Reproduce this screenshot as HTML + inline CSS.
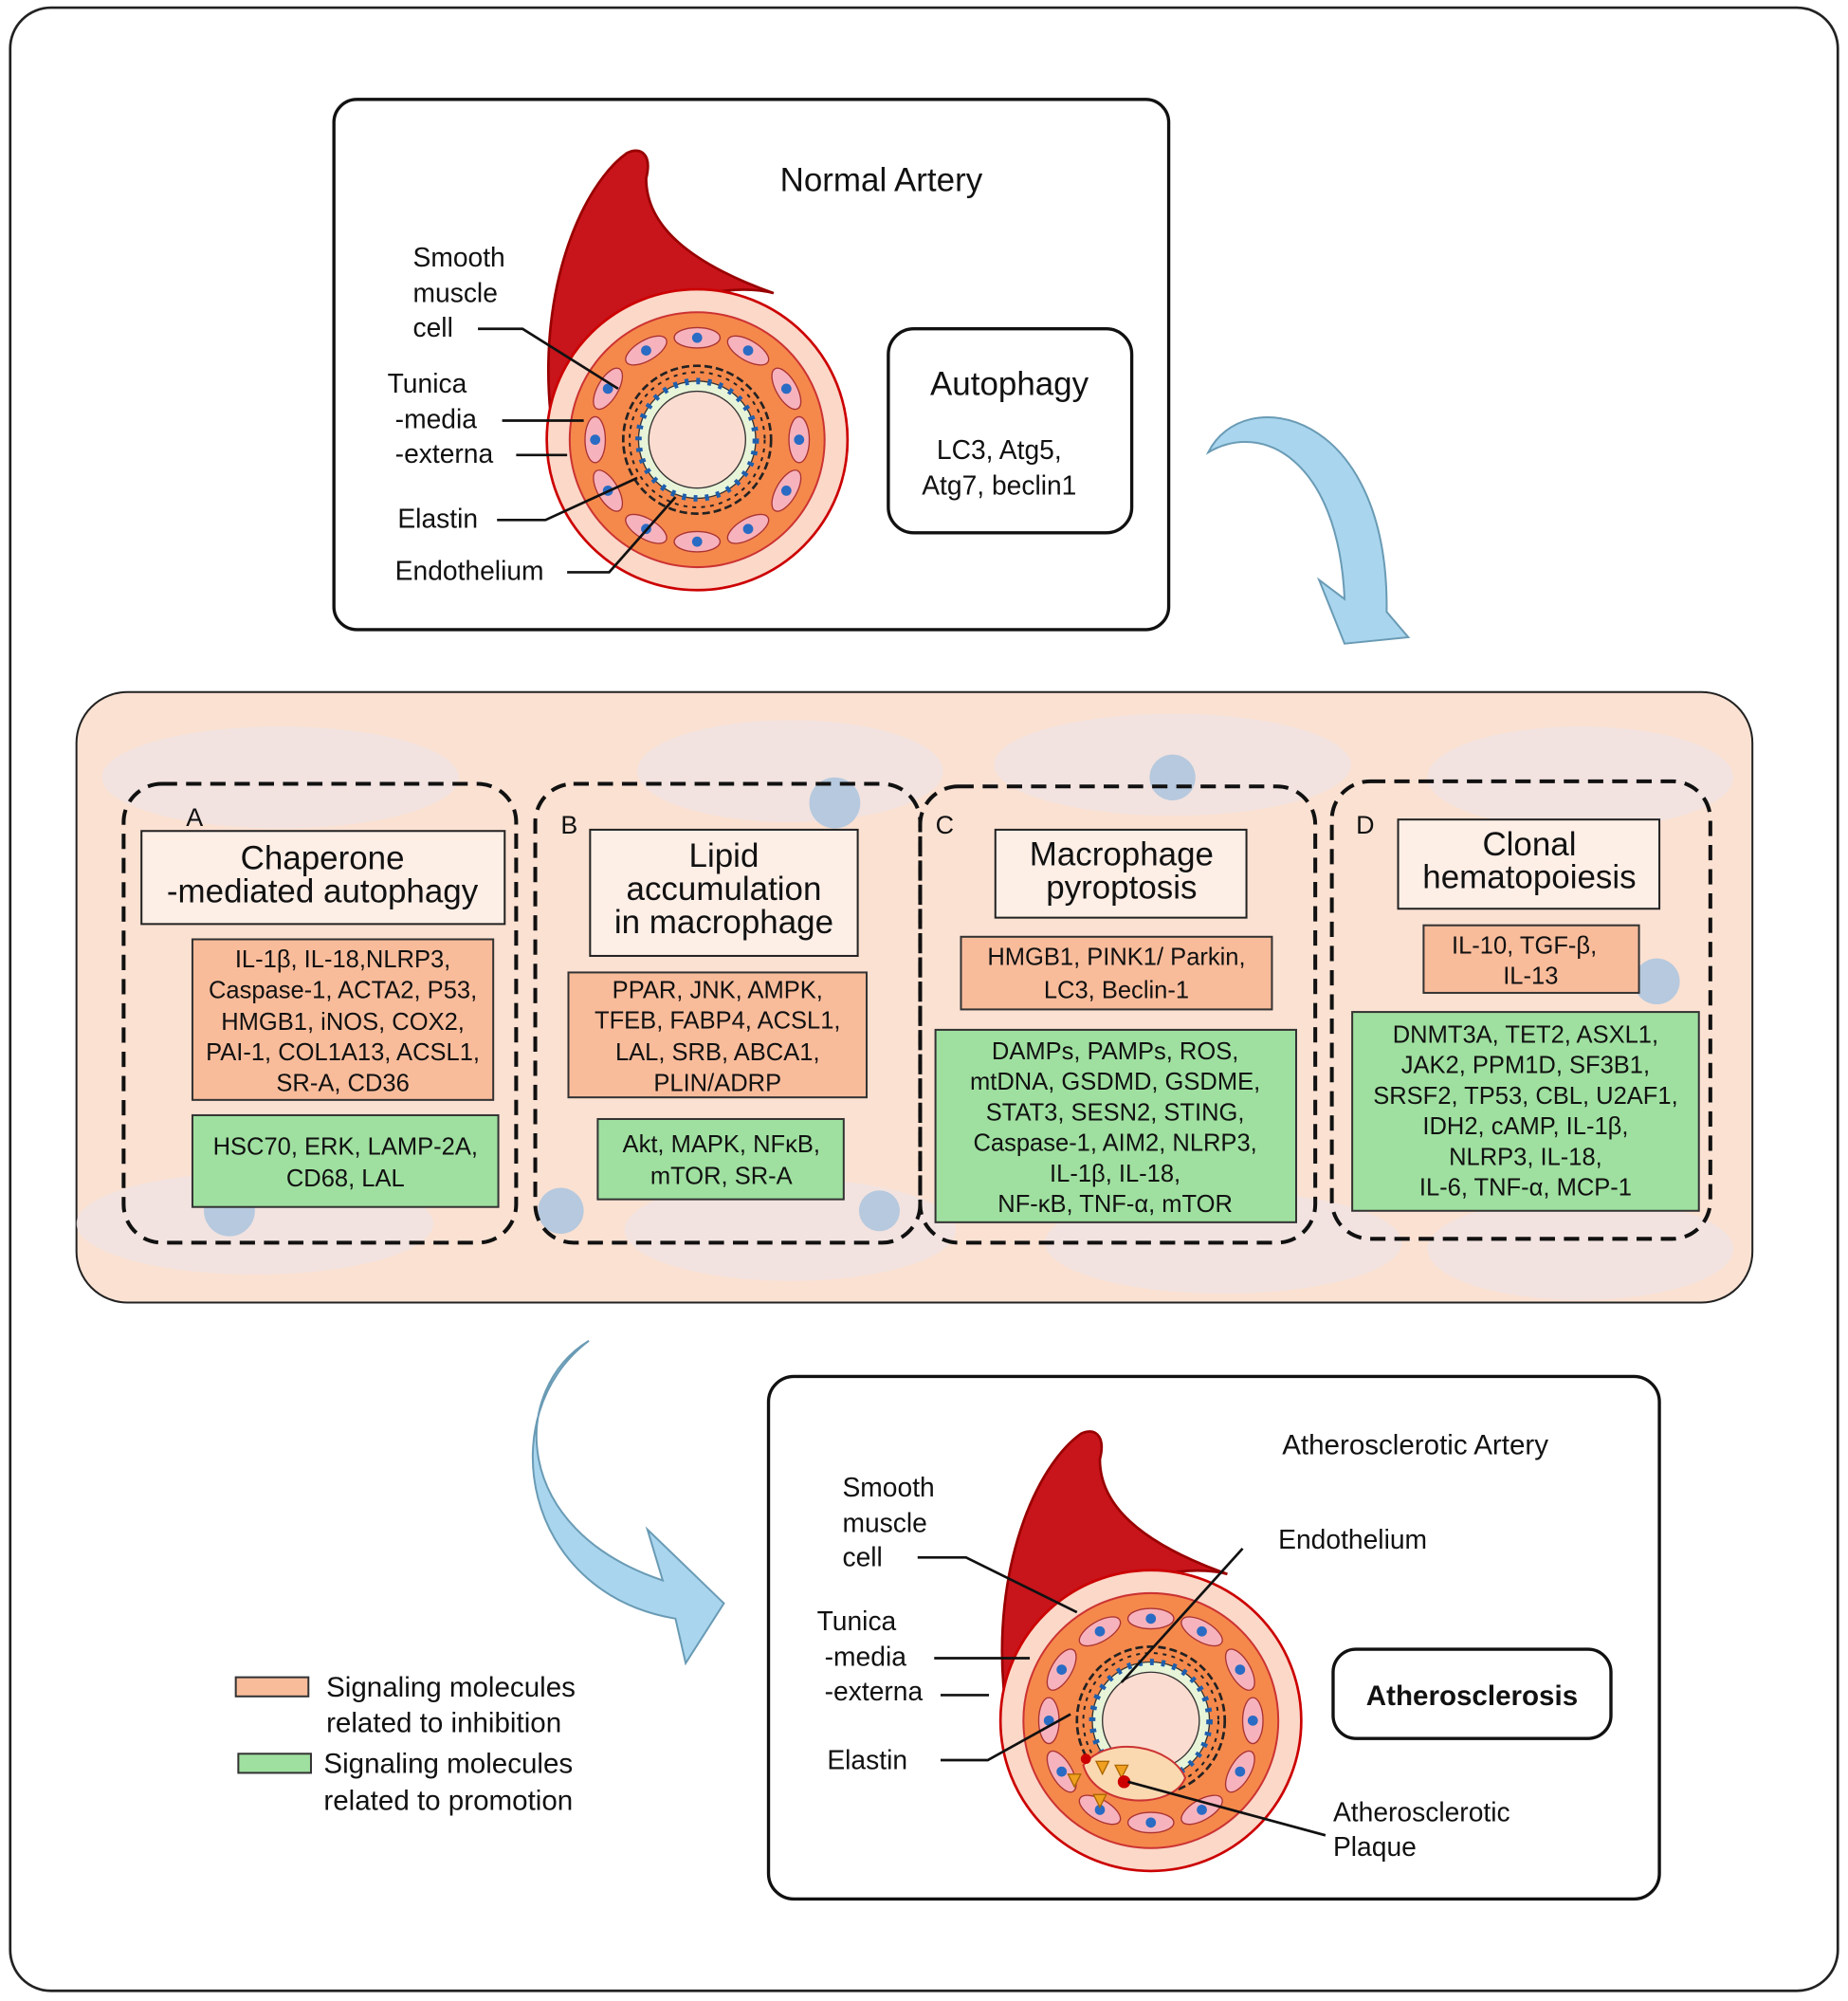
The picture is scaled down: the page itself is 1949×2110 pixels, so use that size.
<!DOCTYPE html>
<html><head><meta charset="utf-8">
<style>
html,body{margin:0;padding:0;background:#fff;}
svg{display:block;}
text{font-family:"Liberation Sans",Arial,sans-serif;fill:#111;}
</style></head>
<body>
<svg width="1949" height="2110" viewBox="0 0 1450 1570" preserveAspectRatio="none" xmlns="http://www.w3.org/2000/svg">
<defs>
<g id="artery">
  <path d="M-115,-20 C-125,-120 -90,-200 -55,-225 C-45,-230 -35,-225 -40,-205 C-40,-170 -10,-140 60,-115 C20,-125 -60,-110 -115,-20 Z" fill="#c8141b" stroke="#900" stroke-width="2"/>
  <circle r="118" fill="#fbd8c8" stroke="#c00" stroke-width="2"/>
  <circle r="100" fill="#f5894c" stroke="#c33" stroke-width="1.5"/>
  <g fill="#f7b3bd" stroke="#a33" stroke-width="1">
    <ellipse cx="0" cy="-80" rx="18" ry="8"/><ellipse cx="40" cy="-70" rx="18" ry="8" transform="rotate(30 40 -70)"/>
    <ellipse cx="70" cy="-40" rx="18" ry="8" transform="rotate(60 70 -40)"/><ellipse cx="80" cy="0" rx="18" ry="8" transform="rotate(90 80 0)"/>
    <ellipse cx="70" cy="40" rx="18" ry="8" transform="rotate(120 70 40)"/><ellipse cx="40" cy="70" rx="18" ry="8" transform="rotate(150 40 70)"/>
    <ellipse cx="0" cy="80" rx="18" ry="8"/><ellipse cx="-40" cy="70" rx="18" ry="8" transform="rotate(30 -40 70)"/>
    <ellipse cx="-70" cy="40" rx="18" ry="8" transform="rotate(60 -70 40)"/><ellipse cx="-80" cy="0" rx="18" ry="8" transform="rotate(90 -80 0)"/>
    <ellipse cx="-70" cy="-40" rx="18" ry="8" transform="rotate(120 -70 -40)"/><ellipse cx="-40" cy="-70" rx="18" ry="8" transform="rotate(150 -40 -70)"/>
  </g>
  <g fill="#2a6bc4">
    <circle cx="0" cy="-80" r="4"/><circle cx="40" cy="-70" r="4"/><circle cx="70" cy="-40" r="4"/><circle cx="80" cy="0" r="4"/>
    <circle cx="70" cy="40" r="4"/><circle cx="40" cy="70" r="4"/><circle cx="0" cy="80" r="4"/><circle cx="-40" cy="70" r="4"/>
    <circle cx="-70" cy="40" r="4"/><circle cx="-80" cy="0" r="4"/><circle cx="-70" cy="-40" r="4"/><circle cx="-40" cy="-70" r="4"/>
  </g>
  <circle r="58" fill="none" stroke="#222" stroke-width="2" stroke-dasharray="6 3"/>
  <circle r="53" fill="none" stroke="#222" stroke-width="1.5" stroke-dasharray="3 4"/>
  <circle r="46" fill="#e8f4d8" stroke="#333" stroke-width="1"/>
  <circle r="46" fill="none" stroke="#1d5fae" stroke-width="5" stroke-dasharray="3 6"/>
  <circle r="38" fill="#fbdcd0" stroke="#333" stroke-width="1"/>
</g>
</defs>

<rect x="8" y="6" width="1434" height="1556" rx="32" fill="#fff" stroke="#222" stroke-width="2"/>

<!-- Normal artery -->
<rect x="262" y="78" width="655" height="416" rx="18" fill="#fff" stroke="#111" stroke-width="2.5"/>
<text x="612" y="150" font-size="26">Normal Artery</text>
<use href="#artery" x="547" y="345"/>
<g font-size="21">
<text x="324" y="209">Smooth</text><text x="324" y="237">muscle</text><text x="324" y="264">cell</text>
<text x="304" y="308">Tunica</text><text x="310" y="336">-media</text><text x="310" y="363">-externa</text>
<text x="312" y="414">Elastin</text><text x="310" y="455">Endothelium</text>
</g>
<g stroke="#111" stroke-width="2" fill="none">
<polyline points="375,258 410,258 485,305"/><line x1="394" y1="330" x2="458" y2="330"/><line x1="405" y1="357" x2="445" y2="357"/>
<polyline points="390,408 428,408 500,375"/><polyline points="445,449 478,449 530,390"/>
</g>
<rect x="697" y="258" width="191" height="160" rx="20" fill="#fff" stroke="#111" stroke-width="2.5"/>
<text x="792" y="310" font-size="26" text-anchor="middle">Autophagy</text>
<text x="784" y="360" font-size="21" text-anchor="middle">LC3, Atg5,</text>
<text x="784" y="388" font-size="21" text-anchor="middle">Atg7, beclin1</text>

<!-- arrow 1 -->
<path d="M948,355 C975,300 1090,320 1088,480 L1105,500 L1055,505 L1035,455 L1055,470 C1050,360 990,330 948,355 Z" fill="#a9d6ee" stroke="#6a9bb5" stroke-width="1.5"/>

<!-- middle panel -->
<rect x="60" y="543" width="1315" height="479" rx="40" fill="#fbe1d2" stroke="#222" stroke-width="1.5"/>
<g fill="#f0e4e4" opacity="0.8">
<ellipse cx="220" cy="610" rx="140" ry="40"/><ellipse cx="620" cy="605" rx="120" ry="40"/><ellipse cx="920" cy="600" rx="140" ry="40"/><ellipse cx="1240" cy="610" rx="120" ry="40"/>
<ellipse cx="200" cy="960" rx="140" ry="40"/><ellipse cx="620" cy="965" rx="130" ry="40"/><ellipse cx="960" cy="975" rx="140" ry="40"/><ellipse cx="1240" cy="980" rx="120" ry="40"/>
</g>
<g fill="#b6c9de"><circle cx="655" cy="630" r="20"/><circle cx="920" cy="610" r="18"/><circle cx="180" cy="950" r="20"/><circle cx="440" cy="950" r="18"/><circle cx="1300" cy="770" r="18"/><circle cx="690" cy="950" r="16"/></g>

<g fill="none" stroke="#111" stroke-width="3" stroke-dasharray="12 7">
<rect x="97" y="615" width="308" height="360" rx="30"/>
<rect x="420" y="615" width="302" height="360" rx="30"/>
<rect x="722" y="617" width="310" height="358" rx="30"/>
<rect x="1045" y="613" width="297" height="359" rx="30"/>
</g>
<g font-size="20"><text x="146" y="648">A</text><text x="440" y="654">B</text><text x="734" y="654">C</text><text x="1064" y="654">D</text></g>

<g fill="#fdeee6" stroke="#222" stroke-width="1.5">
<rect x="111" y="652" width="285" height="73"/><rect x="463" y="651" width="210" height="99"/>
<rect x="781" y="651" width="197" height="69"/><rect x="1097" y="643" width="205" height="70"/>
</g>
<g font-size="26" text-anchor="middle">
<text x="253" y="682">Chaperone</text><text x="253" y="708">-mediated autophagy</text>
<text x="568" y="680">Lipid</text><text x="568" y="706">accumulation</text><text x="568" y="732">in macrophage</text>
<text x="880" y="679">Macrophage</text><text x="880" y="705">pyroptosis</text>
<text x="1200" y="671">Clonal</text><text x="1200" y="697">hematopoiesis</text>
</g>

<g fill="#f9bc9b" stroke="#333" stroke-width="1.5">
<rect x="151" y="737" width="236" height="126"/><rect x="446" y="763" width="234" height="98"/>
<rect x="754" y="735" width="244" height="57"/><rect x="1117" y="726" width="169" height="53"/>
</g>
<g fill="#9fe0a0" stroke="#333" stroke-width="1.5">
<rect x="151" y="875" width="240" height="72"/><rect x="469" y="878" width="193" height="63"/>
<rect x="734" y="808" width="283" height="151"/><rect x="1061" y="794" width="272" height="156"/>
</g>
<g font-size="19" text-anchor="middle">
<text x="269" y="759">IL-1β, IL-18,NLRP3,</text><text x="269" y="783">Caspase-1, ACTA2, P53,</text><text x="269" y="808">HMGB1, iNOS, COX2,</text><text x="269" y="832">PAI-1, COL1A13, ACSL1,</text><text x="269" y="856">SR-A, CD36</text>
<text x="271" y="906">HSC70, ERK, LAMP-2A,</text><text x="271" y="931">CD68, LAL</text>
<text x="563" y="783">PPAR, JNK, AMPK,</text><text x="563" y="807">TFEB, FABP4, ACSL1,</text><text x="563" y="832">LAL, SRB, ABCA1,</text><text x="563" y="856">PLIN/ADRP</text>
<text x="566" y="904">Akt, MAPK, NFκB,</text><text x="566" y="929">mTOR, SR-A</text>
<text x="876" y="757">HMGB1, PINK1/ Parkin,</text><text x="876" y="783">LC3, Beclin-1</text>
<text x="875" y="831">DAMPs, PAMPs, ROS,</text><text x="875" y="855">mtDNA, GSDMD, GSDME,</text><text x="875" y="879">STAT3, SESN2, STING,</text><text x="875" y="903">Caspase-1, AIM2, NLRP3,</text><text x="875" y="927">IL-1β, IL-18,</text><text x="875" y="951">NF-κB, TNF-α, mTOR</text>
<text x="1196" y="748">IL-10,  TGF-β,</text><text x="1201" y="772">IL-13</text>
<text x="1197" y="818">DNMT3A, TET2, ASXL1,</text><text x="1197" y="842">JAK2, PPM1D, SF3B1,</text><text x="1197" y="866">SRSF2, TP53, CBL, U2AF1,</text><text x="1197" y="890">IDH2, cAMP, IL-1β,</text><text x="1197" y="914">NLRP3, IL-18,</text><text x="1197" y="938">IL-6, TNF-α, MCP-1</text>
</g>

<!-- arrow 2 -->
<path d="M462,1052 C400,1090 400,1200 520,1240 L508,1200 L568,1258 L538,1305 L530,1270 C410,1250 385,1110 462,1052 Z" fill="#a9d6ee" stroke="#6a9bb5" stroke-width="1.5"/>

<!-- legend -->
<rect x="185" y="1316" width="57" height="15" fill="#f9bc9b" stroke="#333" stroke-width="1.5"/>
<rect x="187" y="1376" width="57" height="15" fill="#9fe0a0" stroke="#333" stroke-width="1.5"/>
<g font-size="22"><text x="256" y="1331">Signaling molecules</text><text x="256" y="1359">related to inhibition</text>
<text x="254" y="1391">Signaling molecules</text><text x="254" y="1420">related to promotion</text></g>

<!-- atherosclerotic -->
<rect x="603" y="1080" width="699" height="410" rx="20" fill="#fff" stroke="#111" stroke-width="2.5"/>
<text x="1006" y="1141" font-size="22">Atherosclerotic Artery</text>
<use href="#artery" x="903" y="1350"/>
<path d="M850,1385 C870,1360 920,1370 930,1395 C920,1420 860,1420 850,1385 Z" fill="#fbd9b0" stroke="#c33" stroke-width="1.5"/>
<g fill="#f0a020" stroke="#a60" stroke-width="1"><polygon points="838,1392 848,1392 843,1402"/><polygon points="858,1408 868,1408 863,1418"/><polygon points="875,1385 885,1385 880,1395"/><polygon points="860,1382 870,1382 865,1392"/></g>
<circle cx="882" cy="1398" r="5" fill="#c00"/><circle cx="852" cy="1380" r="4" fill="#c00"/>
<g font-size="21">
<text x="661" y="1174">Smooth</text><text x="661" y="1202">muscle</text><text x="661" y="1229">cell</text>
<text x="641" y="1279">Tunica</text><text x="647" y="1307">-media</text><text x="647" y="1334">-externa</text>
<text x="649" y="1388">Elastin</text>
<text x="1003" y="1215">Endothelium</text>
<text x="1046" y="1429">Atherosclerotic</text><text x="1046" y="1456">Plaque</text>
</g>
<g stroke="#111" stroke-width="2" fill="none">
<polyline points="720,1222 758,1222 845,1265"/><line x1="733" y1="1301" x2="808" y2="1301"/><line x1="738" y1="1330" x2="776" y2="1330"/>
<polyline points="738,1381 775,1381 840,1345"/><line x1="975" y1="1215" x2="880" y2="1320"/><line x1="1040" y1="1440" x2="885" y2="1398"/>
</g>
<rect x="1046" y="1294" width="218" height="70" rx="18" fill="#fff" stroke="#111" stroke-width="2.5"/>
<text x="1155" y="1338" font-size="22" font-weight="bold" text-anchor="middle">Atherosclerosis</text>
</svg>
</body></html>
